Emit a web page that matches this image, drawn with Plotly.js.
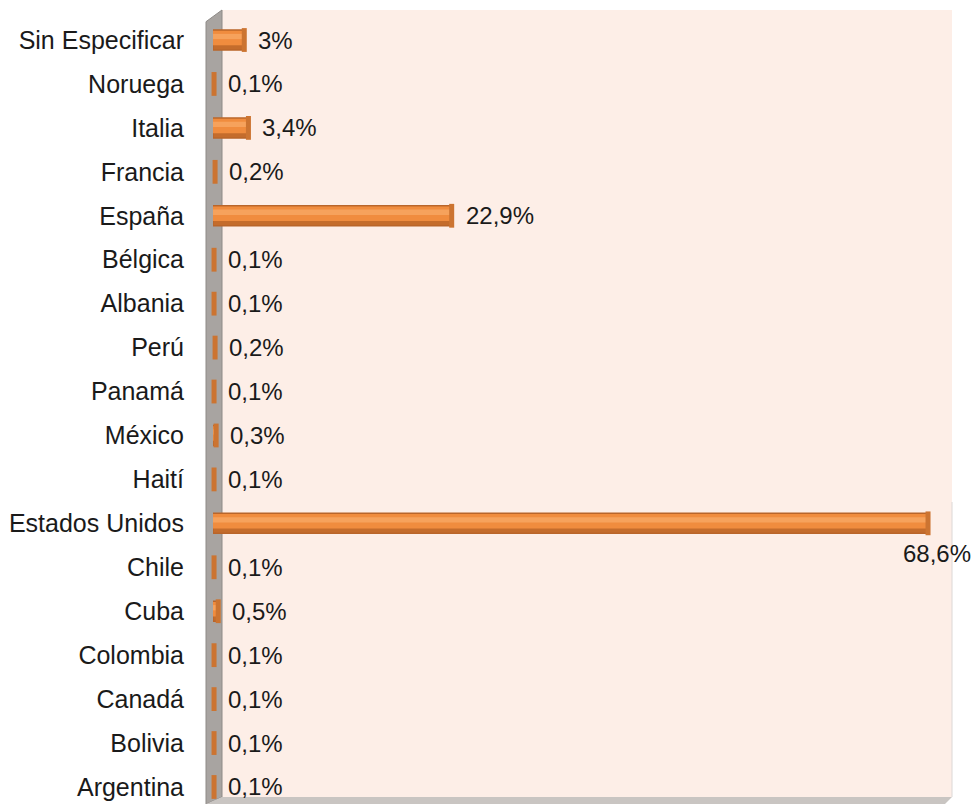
<!DOCTYPE html>
<html>
<head>
<meta charset="utf-8">
<script src="https://cdn.plot.ly/plotly-3.0.1.min.js"></script>
<style>html,body{margin:0;padding:0;background:#fff;}#chart{width:971px;height:804px;}</style>
</head>
<body>
<div id="chart"></div>
<script>
// Data (top to bottom as shown)
const countries = ["Sin Especificar","Noruega","Italia","Francia","España","Bélgica","Albania","Perú","Panamá","México","Haití","Estados Unidos","Chile","Cuba","Colombia","Canadá","Bolivia","Argentina"];
const values = [3, 0.1, 3.4, 0.2, 22.9, 0.1, 0.1, 0.2, 0.1, 0.3, 0.1, 68.6, 0.1, 0.5, 0.1, 0.1, 0.1, 0.1];
const labels = ["3%","0,1%","3,4%","0,2%","22,9%","0,1%","0,1%","0,2%","0,1%","0,3%","0,1%","68,6%","0,1%","0,5%","0,1%","0,1%","0,1%","0,1%"];

// Layout geometry (pixels)
const W = 971, H = 804;
const L = 213, R = 19, T = 10, B = 7;
const pw = W - L - R, ph = H - T - B;
const px = x => (x - L) / pw;
const py = y => (H - B - y) / ph;
const font = "Liberation Sans, Arial, sans-serif";

const base = {
  type: "bar", orientation: "h", x: values, y: countries,
  width: 0.455,
  marker: {color: "#C46C2C", line: {color: "#B9652A", width: 1.5}},
  hoverinfo: "skip", cliponaxis: false
};
const mid = {
  type: "bar", orientation: "h", x: values, y: countries,
  width: 0.33, offset: -0.21,
  marker: {color: "#F08C3E", line: {width: 0}},
  hoverinfo: "skip"
};
const hi = {
  type: "bar", orientation: "h", x: values, y: countries,
  width: 0.12, offset: -0.14,
  marker: {color: "#F6A25C", line: {width: 0}},
  hoverinfo: "skip"
};
// cylinder end caps
const caps = {
  type: "scatter", mode: "markers", x: values, y: countries,
  marker: {symbol: "line-ns", size: 17, line: {color: "#CC7431", width: 5}},
  hoverinfo: "skip", cliponaxis: false
};

const annotations = countries.map((c, i) => {
  const big = values[i] > 50;
  return {
    x: values[i], y: c, xref: "x", yref: "y",
    text: labels[i], showarrow: false,
    xanchor: "left", yanchor: "middle",
    xshift: big ? -27 : 12, yshift: big ? -30 : 0,
    font: {family: font, size: 24, color: "#1a1a1a"}
  };
});

const shapes = [
  // back wall (pink)
  {type: "rect", xref: "paper", yref: "paper", x0: px(222), x1: px(952), y0: py(797), y1: py(10),
   fillcolor: "#FDEEE7", line: {width: 0}, layer: "below"},
  // side wall (grey)
  {type: "path", xref: "paper", yref: "paper",
   path: `M ${px(206)} ${py(21.7)} L ${px(222)} ${py(10)} L ${px(222)} ${py(797)} L ${px(206)} ${py(804)} Z`,
   fillcolor: "#A8A4A1", line: {color: "#8E8A87", width: 1}, layer: "below"},
  // floor
  {type: "path", xref: "paper", yref: "paper",
   path: `M ${px(206)} ${py(804)} L ${px(222)} ${py(797)} L ${px(952)} ${py(797)} L ${px(945)} ${py(804)} Z`,
   fillcolor: "#C9C5C2", line: {width: 0}, layer: "below"},
  // right edge line
  {type: "line", xref: "paper", yref: "paper", x0: px(952), x1: px(952), y0: py(502), y1: py(797),
   line: {color: "#DCD8D6", width: 1}, layer: "below"}
];

const layout = {
  width: W, height: H,
  margin: {l: L, r: R, t: T, b: B, pad: 0},
  paper_bgcolor: "#FFFFFF", plot_bgcolor: "rgba(0,0,0,0)",
  barmode: "overlay", showlegend: false,
  font: {family: font, color: "#1a1a1a"},
  xaxis: {range: [0, 70.9], showgrid: false, zeroline: false, showticklabels: false, showline: false, ticks: "", fixedrange: true},
  yaxis: {type: "category", categoryorder: "array", categoryarray: countries,
          range: [17.228, -0.683], showgrid: false, zeroline: false, showline: false,
          ticks: "outside", ticklen: 23, tickcolor: "rgba(0,0,0,0)",
          tickfont: {family: font, size: 25, color: "#1a1a1a"}, fixedrange: true},
  shapes: shapes,
  annotations: annotations
};

Plotly.newPlot("chart", [base, mid, hi, caps], layout, {displayModeBar: false, staticPlot: true});
</script>
</body>
</html>
